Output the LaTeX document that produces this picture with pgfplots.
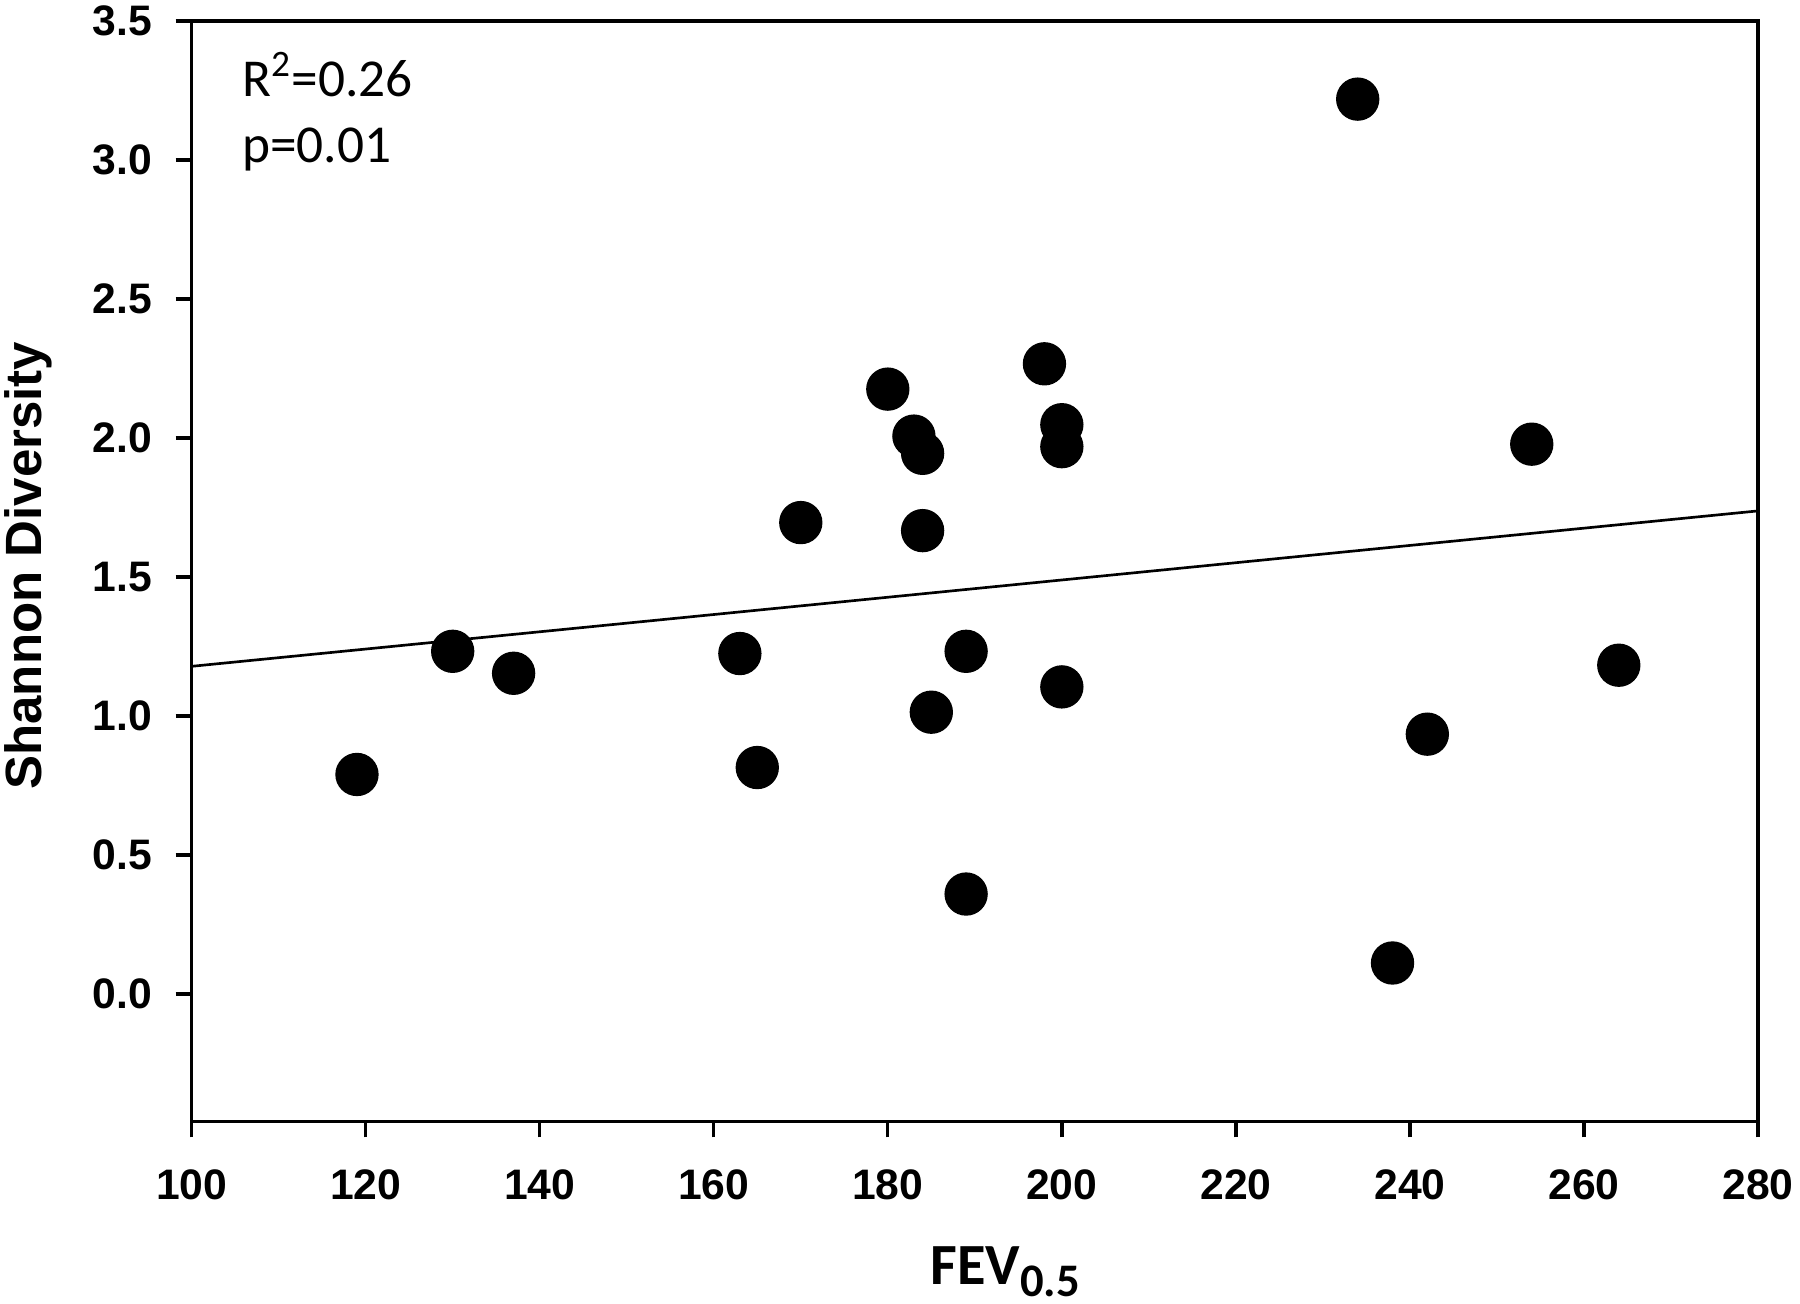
\documentclass[border=0pt]{standalone}
\usepackage{pgfplots}
\pgfplotsset{compat=1.18}
\usepackage{fontspec}
\setmainfont{Liberation Sans}
\newfontfamily\calibri{Carlito}

\begin{document}
\begin{tikzpicture}
\begin{axis}[
    at={(0,0)}, anchor=south west,
    scale only axis, width=470pt, height=330.2pt,
    xmin=100, xmax=280, ymin=-0.458, ymax=3.5,
    xtick={100,120,...,280},
    ytick={0,0.5,...,3.5},
    axis line style={line width=1pt},
    tick style={line width=1pt, black},
    tick align=outside, major tick length=4.8pt,
    xtick pos=bottom, ytick pos=left,
    /pgf/number format/assume math mode=true,
    tick label style={font=\fontsize{12.8}{15}\selectfont\bfseries},
    xticklabel style={yshift=-6pt},
    yticklabel style={xshift=-3.5pt, /pgf/number format/.cd, fixed, fixed zerofill, precision=1},
    xlabel={\calibri\bfseries\fontsize{17.5}{20}\selectfont FEV\textsubscript{\fontsize{14}{16}\selectfont\raisebox{-0.8pt}{0.5}}},
    ylabel={\bfseries\fontsize{15.3}{18}\selectfont Shannon Diversity},
    every axis x label/.style={at={(axis description cs:0.52,0)}, anchor=base, yshift=-49pt},
    every axis y label/.style={at={(axis description cs:-0.1045,0.505)}, rotate=90, anchor=center},
    clip=false,
]
% fitted line
\addplot[black, line width=0.8pt, no marks] coordinates {(100,1.179) (280,1.738)};
% observations
\addplot[only marks, mark=*, mark size=6.3pt, black] coordinates {
    (119,0.79) (130,1.233) (137,1.154) (163,1.225) (165,0.815)
    (170,1.696) (180,2.176) (183,2.007) (184,1.945) (184,1.667)
    (185,1.014) (189,1.233) (189,0.36) (198,2.267) (200,2.048)
    (200,1.969) (200,1.105) (234,3.219) (238,0.112) (242,0.935)
    (254,1.978) (264,1.183)
};
\node[anchor=base west, font=\calibri\fontsize{16}{18}\selectfont, inner sep=0pt]
    at (rel axis cs:0,1) [xshift=15pt, yshift=-22.8pt] {R\textsuperscript{2}=0.26};
\node[anchor=base west, font=\calibri\fontsize{16}{18}\selectfont, inner sep=0pt]
    at (rel axis cs:0,1) [xshift=15pt, yshift=-42.6pt] {p=0.01};
\end{axis}
\pgfresetboundingbox
\path[use as bounding box] (-57.5pt,-54.7pt) rectangle (482.6pt,336.5pt);
\end{tikzpicture}
\end{document}
